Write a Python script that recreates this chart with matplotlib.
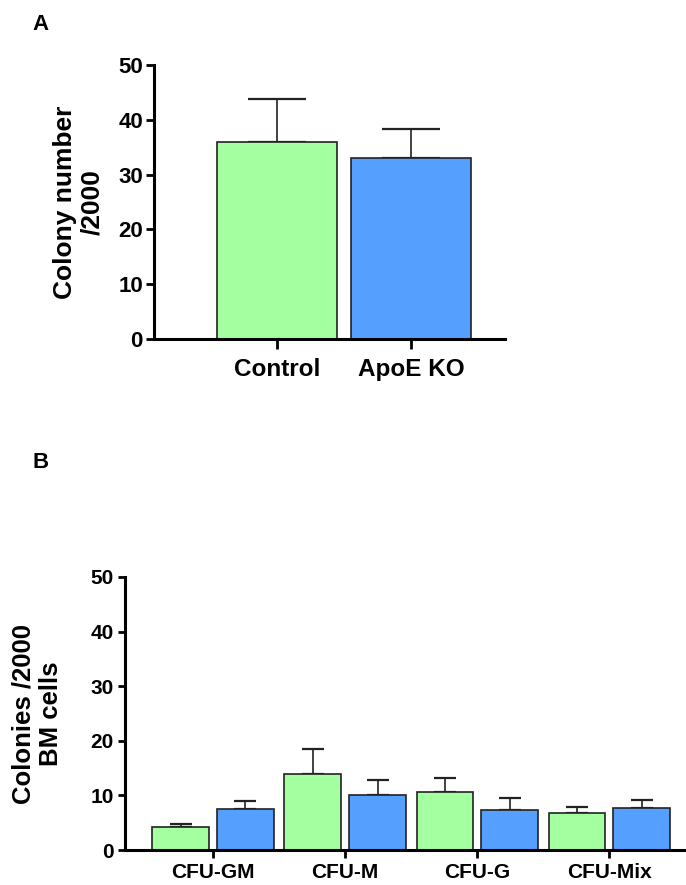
import matplotlib.pyplot as plt
import numpy as np

# Panel A
grupos_a = ['Control', 'ApoE KO']
valores_a = [36.0, 33.1]
errores_a = [7.8, 5.2]

# Panel B
categorias_b = ['CFU-GM', 'CFU-M', 'CFU-G', 'CFU-Mix']
control_b = [4.3, 14.0, 10.6, 6.7]
control_err_b = [0.5, 4.5, 2.6, 1.1]
apoe_b = [7.6, 10.0, 7.4, 7.7]
apoe_err_b = [1.4, 2.9, 2.1, 1.4]

verde = '#A3FFA0'
azul = '#559FFF'
borde = '#222222'

plt.rcParams['font.family'] = ['Liberation Sans', 'DejaVu Sans']
plt.rcParams['font.weight'] = 'bold'

fig = plt.figure(figsize=(6.86, 8.85), dpi=100)

# ---- Panel A ----
ax1 = fig.add_axes([154 / 686, 1 - 339 / 885, (505 - 154) / 686, (339 - 65) / 885])
x = np.arange(len(grupos_a))
ax1.bar(x, valores_a, width=0.9, color=[verde, azul], edgecolor=borde, linewidth=1.2, zorder=2)
ax1.errorbar(x, valores_a, yerr=[np.zeros(len(errores_a)), errores_a], fmt='none',
             ecolor=borde, elinewidth=1.2, capsize=21, capthick=1.6, zorder=1)
ax1.set_xlim(-0.918, 1.70)
ax1.set_ylim(0, 50)
ax1.set_yticks([0, 10, 20, 30, 40, 50])
ax1.set_xticks(x)
ax1.set_xticklabels(grupos_a, fontsize=17.5, fontweight='bold')
ax1.tick_params(axis='y', labelsize=16, width=2, length=6, direction='out', pad=2)
ax1.tick_params(axis='x', width=2, length=7, direction='out', pad=7)
for s in ['top', 'right']:
    ax1.spines[s].set_visible(False)
for s in ['left', 'bottom']:
    ax1.spines[s].set_linewidth(2.2)
ax1.set_ylabel('Colony number\n/2000', fontsize=19, fontweight='bold', labelpad=10, linespacing=1.15)
fig.text(32 / 686, 1 - 25 / 885, 'A', fontsize=16, fontweight='bold', va='center')

# ---- Panel B ----
ax2 = fig.add_axes([125 / 686, 1 - 850 / 885, (686 - 125) / 686, (850 - 577) / 885])
xb = np.arange(len(categorias_b))
ancho = 0.43
desp = 0.245
ax2.bar(xb - desp, control_b, width=ancho, color=verde, edgecolor=borde, linewidth=1.2, zorder=2)
ax2.bar(xb + desp, apoe_b, width=ancho, color=azul, edgecolor=borde, linewidth=1.2, zorder=2)
ax2.errorbar(xb - desp, control_b, yerr=[np.zeros(4), control_err_b], fmt='none',
             ecolor=borde, elinewidth=1.2, capsize=8, capthick=1.6, zorder=1)
ax2.errorbar(xb + desp, apoe_b, yerr=[np.zeros(4), apoe_err_b], fmt='none',
             ecolor=borde, elinewidth=1.2, capsize=8, capthick=1.6, zorder=1)
ax2.set_xlim(-0.667, 3.58)
ax2.set_ylim(0, 50)
ax2.set_yticks([0, 10, 20, 30, 40, 50])
ax2.set_xticks(xb)
ax2.set_xticklabels(categorias_b, fontsize=15, fontweight='bold')
ax2.tick_params(axis='y', labelsize=15, width=2, length=5, direction='out', pad=3)
ax2.tick_params(axis='x', width=2, length=6, direction='out', pad=3)
for s in ['top', 'right']:
    ax2.spines[s].set_visible(False)
for s in ['left', 'bottom']:
    ax2.spines[s].set_linewidth(2.2)
ax2.set_ylabel('Colonies /2000\nBM cells', fontsize=18.5, fontweight='bold', labelpad=20, linespacing=1.15)
fig.text(32 / 686, 1 - 462 / 885, 'B', fontsize=16, fontweight='bold', va='center')

fig.savefig('out.png', dpi=100)
